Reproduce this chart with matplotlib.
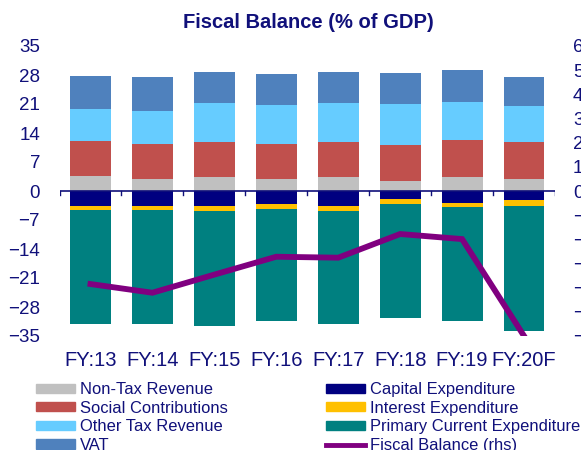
import matplotlib
matplotlib.use("Agg")
import matplotlib.pyplot as plt
import numpy as np
from matplotlib.patches import Patch
from matplotlib.lines import Line2D

plt.rcParams['font.family'] = ['Liberation Sans', 'DejaVu Sans']

categories = ["FY:13", "FY:14", "FY:15", "FY:16", "FY:17", "FY:18", "FY:19", "FY:20F"]
non_tax = [3.7, 3.0, 3.45, 3.0, 3.4, 2.5, 3.4, 3.0]
social = [8.45, 8.3, 8.45, 8.45, 8.5, 8.5, 8.9, 8.8]
other_tax = [7.7, 7.9, 9.3, 9.2, 9.3, 10.0, 9.3, 8.7]
vat = [8.0, 8.4, 7.5, 7.7, 7.6, 7.5, 7.5, 6.9]
capital = [-3.55, -3.55, -3.55, -3.07, -3.5, -2.0, -2.8, -2.2]
interest = [-1.0, -1.05, -1.2, -1.2, -1.35, -1.2, -1.1, -1.4]
primary = [-27.6, -27.6, -27.8, -27.2, -27.3, -27.4, -27.4, -30.2]
fiscal_balance = [-3.85, -4.21, -3.46, -2.72, -2.76, -1.78, -1.99, -6.0]
left_ticks = [-35, -28, -21, -14, -7, 0, 7, 14, 21, 28, 35]
right_ticks = [-6, -5, -4, -3, -2, -1, 0, 1, 2, 3, 4, 5, 6]

navy = "#10107a"
c_nontax = "#C0C0C0"
c_social = "#C0504D"
c_other = "#66CCFF"
c_vat = "#4F81BD"
c_cap = "#000080"
c_int = "#FFC000"
c_prim = "#008080"
c_line = "#800080"

fig = plt.figure(figsize=(5.81, 4.5), dpi=100)
ax = fig.add_axes([59.5/581, 1-336/450, (555-59.5)/581, 290/450])
x = np.arange(len(categories))
w = 0.66

pos_series = [(non_tax, c_nontax), (social, c_social), (other_tax, c_other), (vat, c_vat)]
bottom = np.zeros(len(x))
for vals, col in pos_series:
    ax.bar(x, vals, w, bottom=bottom, color=col, edgecolor='none', zorder=2)
    bottom += np.array(vals)
neg_series = [(capital, c_cap), (interest, c_int), (primary, c_prim)]
bottom = np.zeros(len(x))
for vals, col in neg_series:
    ax.bar(x, vals, w, bottom=bottom, color=col, edgecolor='none', zorder=2)
    bottom += np.array(vals)

ax.set_xlim(-0.5, len(x) - 0.5)
ax.set_ylim(-35, 35)
ax.set_yticks(left_ticks)
ax.tick_params(axis='y', length=0, pad=14, labelsize=13.5, labelcolor=navy)
for s in ax.spines.values():
    s.set_visible(False)
ax.axhline(0, color=navy, lw=1.2, zorder=3)
for b in np.arange(-0.5, len(x), 1.0):
    ax.plot([b, b], [0, -1.0], color=navy, lw=1.0, zorder=3)
ax.set_xticks(x)
ax.set_xticklabels(categories)
ax.tick_params(axis='x', length=0, pad=11, labelsize=14.5, labelcolor=navy)

ax2 = ax.twinx()
ax2.plot(x, fiscal_balance, color=c_line, lw=4.2, zorder=5, solid_joinstyle='miter')
ax2.set_ylim(-6, 6)
ax2.set_yticks(right_ticks)
ax2.tick_params(axis='y', length=0, pad=13, labelsize=13.5, labelcolor=navy)
for s in ax2.spines.values():
    s.set_visible(False)

fig.text(308.5/581, 1-23/450, "Fiscal Balance (% of GDP)", ha='center', va='center',
         fontsize=14.5, fontweight='bold', color=navy)

handles1 = [
    Patch(color=c_nontax, label="Non-Tax Revenue"),
    Patch(color=c_social, label="Social Contributions"),
    Patch(color=c_other, label="Other Tax Revenue"),
    Patch(color=c_vat, label="VAT"),
]
handles2 = [
    Patch(color=c_cap, label="Capital Expenditure"),
    Patch(color=c_int, label="Interest Expenditure"),
    Patch(color=c_prim, label="Primary Current Expenditure"),
    Line2D([0], [0], color=c_line, lw=3.5, label="Fiscal Balance (rhs)"),
]
kw = dict(loc='upper left', frameon=False, fontsize=11.9, handlelength=2.34, handleheight=0.48,
          handletextpad=0.3, labelspacing=0.22, borderaxespad=0, borderpad=0)
leg1 = fig.legend(handles=handles1, bbox_to_anchor=(36/581, 1-382/450), **kw)
leg2 = fig.legend(handles=handles2, bbox_to_anchor=(326/581, 1-382/450), **kw)
for leg in (leg1, leg2):
    for t in leg.get_texts():
        t.set_color(navy)

fig.savefig("out.png", dpi=100)
